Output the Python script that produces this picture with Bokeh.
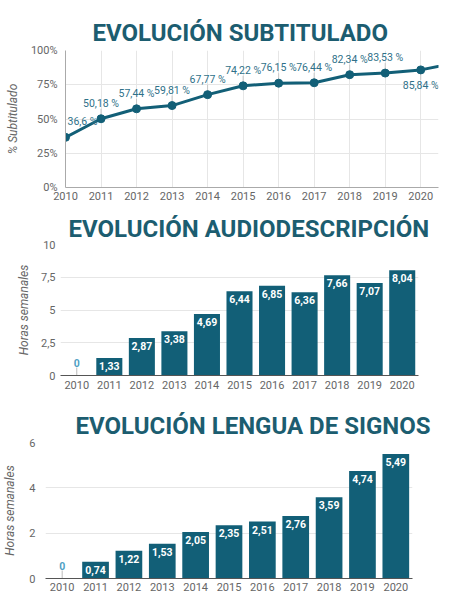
import math
from bokeh.plotting import figure
from bokeh.layouts import column, row
from bokeh.models import FixedTicker, Range1d, FactorRange, Label
from bokeh.embed import file_html
from bokeh.resources import INLINE
from bokeh.core.properties import value

# ---------------- data ----------------
years = [2010, 2011, 2012, 2013, 2014, 2015, 2016, 2017, 2018, 2019, 2020]
subtitulado = [36.6, 50.18, 57.44, 59.81, 67.77, 74.22, 76.15, 76.44, 82.34, 83.53, 85.84]
# line continues beyond the last labelled year (cut at the plot edge)
subt_next_year = 2021
subt_next_value = 91.0
audiodescripcion = [0, 1.33, 2.87, 3.38, 4.69, 6.44, 6.85, 6.36, 7.66, 7.07, 8.04]
signos = [0, 0.74, 1.22, 1.53, 2.05, 2.35, 2.51, 2.76, 3.59, 4.74, 5.49]
pct_ticks = [0, 25, 50, 75, 100]
ad_ticks = [0, 2.5, 5, 7.5, 10]
ls_ticks = [0, 2, 4, 6]

titles = ["EVOLUCIÓN SUBTITULADO", "EVOLUCIÓN AUDIODESCRIPCIÓN", "EVOLUCIÓN LENGUA DE SIGNOS"]
y_titles = ["% Subtitulado", "Horas semanales", "Horas semanales"]

# ---------------- style ----------------
FONT = "Roboto"
TEAL = "#125f77"
TITLE_C = "#1c5d70"
LABEL_C = "#2f7189"
TICK_C = "#666666"
GRID_C = "#e6e6e6"
ZERO_C = "#4f9fc4"


def es(v):
    return ("%g" % v).replace(".", ",")


def style_common(p, title, title_offset, title_standoff, ytitle, ylab_standoff, ytitle_standoff, xlab_standoff):
    p.title.text = title
    p.title.align = "left"
    p.title.offset = title_offset
    p.title.text_font = FONT
    p.title.text_font_size = "24px"
    p.title.text_font_style = "bold"
    p.title.text_color = TITLE_C
    p.title.standoff = title_standoff
    p.outline_line_color = None
    p.background_fill_color = "white"
    p.border_fill_color = "white"
    for ax in (p.xaxis, p.yaxis):
        ax.major_tick_line_color = None
        ax.minor_tick_line_color = None
        ax.major_tick_out = 0
        ax.major_tick_in = 0
        ax.minor_tick_out = 0
        ax.minor_tick_in = 0
        ax.major_label_text_font = FONT
        ax.major_label_text_font_size = "11px"
        ax.major_label_text_color = TICK_C
    p.xaxis.major_label_standoff = xlab_standoff
    p.yaxis.major_label_standoff = ylab_standoff
    p.yaxis.axis_label = ytitle
    p.yaxis.axis_label_text_font = FONT
    p.yaxis.axis_label_text_font_size = "12px"
    p.yaxis.axis_label_text_font_style = "italic"
    p.yaxis.axis_label_text_color = TICK_C
    p.yaxis.axis_label_standoff = ytitle_standoff
    p.ygrid.grid_line_color = GRID_C


# ---------------- chart 1: line ----------------
p1 = figure(frame_width=373, frame_height=137, x_range=Range1d(2010, 2020.5), y_range=Range1d(0, 100),
            output_backend="svg", toolbar_location=None,
            min_border_left=65, min_border_right=18, min_border_top=50, min_border_bottom=23)
style_common(p1, titles[0], 27, 7, y_titles[0], 8, 8, 4)
p1.xaxis.ticker = FixedTicker(ticks=years)
p1.yaxis.ticker = FixedTicker(ticks=pct_ticks)
p1.yaxis.major_label_overrides = {t: f"{t}%" for t in pct_ticks}
p1.xaxis.axis_line_color = "#aaaaaa"
p1.yaxis.axis_line_color = "#aaaaaa"
p1.xgrid.grid_line_color = GRID_C

sub_labels = [es(v) + " %" for v in subtitulado]
# leader lines
p1.ray(x=years[:-1], y=subtitulado[:-1], length=10, length_units="screen", angle=math.pi / 2,
       line_color="#c8c8c8", line_width=1)
p1.ray(x=years[-1:], y=subtitulado[-1:], length=10, length_units="screen", angle=-math.pi / 2,
       line_color="#c8c8c8", line_width=1)
p1.line(x=years + [subt_next_year], y=subtitulado + [subt_next_value], line_color=TEAL, line_width=3)
p1.scatter(x=years, y=subtitulado, size=8, fill_color=TEAL, line_color=TEAL)
for i, (xv, yv, t) in enumerate(zip(years, subtitulado, sub_labels)):
    first = i == 0
    last = i == len(years) - 1
    # annotations are clipped to the frame: the first label starts at the frame edge
    p1.add_layout(Label(x=xv, y=yv, text=t, text_align="left" if first else "center",
                        x_offset=2 if first else 0,
                        text_baseline="top" if last else "bottom",
                        y_offset=-9 if last else 9, text_font=FONT, text_font_size="10.5px",
                        text_color=LABEL_C))


# ---------------- bar chart helper ----------------
def bar_chart(values, ticks, title, title_offset, title_standoff, fw, fh, bl, br, bt, bb,
              ylab_standoff, ytitle_standoff, xlab_standoff, ytitle):
    cats = [str(y) for y in years]
    p = figure(frame_width=fw, frame_height=fh, x_range=FactorRange(*cats), y_range=Range1d(ticks[0], ticks[-1]),
               output_backend="svg", toolbar_location=None,
               min_border_left=bl, min_border_right=br, min_border_top=bt, min_border_bottom=bb)
    style_common(p, title, title_offset, title_standoff, ytitle, ylab_standoff, ytitle_standoff, xlab_standoff)
    p.yaxis.ticker = FixedTicker(ticks=ticks)
    p.yaxis.major_label_overrides = {t: es(t) for t in ticks}
    p.yaxis.axis_line_color = None
    p.xaxis.axis_line_color = "#555555"
    p.xgrid.grid_line_color = None
    p.vbar(x=cats, top=values, width=0.8, fill_color=TEAL, line_color=None)
    nz = [(c, v) for c, v in zip(cats, values) if v > 0]
    z = [(c, v) for c, v in zip(cats, values) if v == 0]
    p.text(x=[c for c, _ in nz], y=[v for _, v in nz], text=[es(v) for _, v in nz],
           text_align="center", text_baseline="top", y_offset=4, text_font=value(FONT),
           text_font_size="10.5px", text_font_style="bold", text_color="white")
    p.ray(x=[c for c, _ in z], y=[v for _, v in z], length=8, length_units="screen",
          angle=math.pi / 2, line_color="#bbbbbb", line_width=1)
    p.text(x=[c for c, _ in z], y=[v for _, v in z], text=[es(v) for _, v in z],
           text_align="center", text_baseline="bottom", y_offset=-9, text_font=value(FONT),
           text_font_size="10.5px", text_font_style="bold", text_color=ZERO_C)
    return p


p2 = bar_chart(audiodescripcion, ad_ticks, titles[1], 8, 4, 358, 131, 60, 38, 34, 25, 5, 7, 5, y_titles[1])
p3 = bar_chart(signos, ls_ticks, titles[2], 30, 6, 367, 136, 43, 46, 42, 22, 10, 9, 4, y_titles[2])

layout = column(row(p1), row(p2), row(p3), spacing=0)
open("out.html", "w").write(file_html(layout, INLINE))
